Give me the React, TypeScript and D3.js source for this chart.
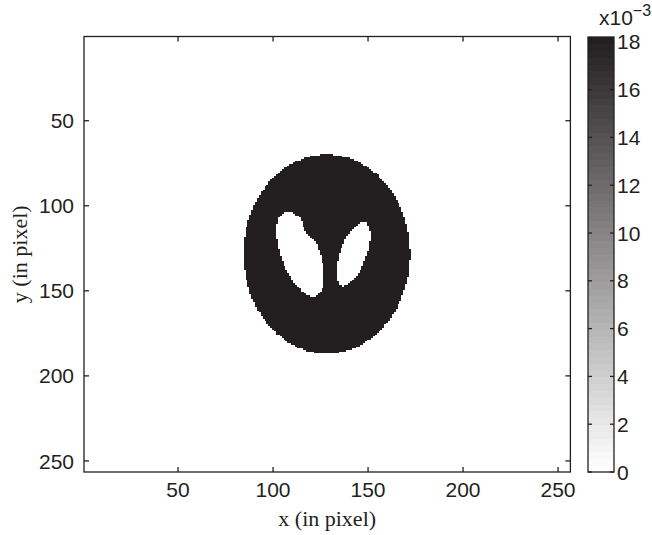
import React from "react";
import * as d3 from "d3";

// Phantom definition: ellipses painted in order, later ones overwrite earlier ones.
const ellipseCx = [0, 0.22, -0.22, 0];
const ellipseCy = [0, 0, 0, 0.35];
const ellipseA = [0.69, 0.11, 0.16, 0.21];
const ellipseB = [0.92, 0.31, 0.41, 0.25];
const ellipsePhi = [0, -18, 18, 0];
const ellipseLevel = [0.0182, 0, 0, 0.0182];

const imageSize = 256;
const phantomCenter = 128.25;
const phantomScale = 63.5;

const axisTicks = [50, 100, 150, 200, 250];
const colorbarTicks = [0, 2, 4, 6, 8, 10, 12, 14, 16, 18];
const colorMax = 0.0182;
const colorLevels = 64;

const W = 652;
const H = 535;
const plot = { left: 84, right: 570.4, top: 36.5, bottom: 472 };
const cbar = { left: 588, right: 614, top: 37, bottom: 472 };
const ink = "#231f20";
const sans = "'Liberation Sans', Arial, Helvetica, sans-serif";
const serif = "'Liberation Serif', 'Times New Roman', serif";

function phantomValue(col: number, row: number): number {
  const x = (col - phantomCenter) / phantomScale;
  const y = (phantomCenter - row) / phantomScale;
  let v = 0;
  for (let k = 0; k < ellipseCx.length; k++) {
    const t = (ellipsePhi[k] * Math.PI) / 180;
    const dx = x - ellipseCx[k];
    const dy = y - ellipseCy[k];
    const u = dx * Math.cos(t) + dy * Math.sin(t);
    const w = -dx * Math.sin(t) + dy * Math.cos(t);
    if ((u * u) / (ellipseA[k] * ellipseA[k]) + (w * w) / (ellipseB[k] * ellipseB[k]) <= 1) {
      v = ellipseLevel[k];
    }
  }
  return v;
}

export default function App() {
  const xScale = d3.scaleLinear().domain([0.5, imageSize + 0.5]).range([plot.left, plot.right]);
  const yScale = d3.scaleLinear().domain([0.5, imageSize + 0.5]).range([plot.top, plot.bottom]);
  const cScale = d3.scaleLinear().domain([0, colorMax]).range([cbar.bottom, cbar.top]);
  const interp = d3.interpolateRgb("#ffffff", ink);
  const levelColor = (v: number) => {
    const idx = Math.min(colorLevels - 1, Math.floor((v / colorMax) * colorLevels));
    return interp(idx / (colorLevels - 1));
  };

  // Run-length encode each image row into rectangles of constant value.
  const runs: { r: number; c0: number; c1: number; v: number }[] = [];
  for (let r = 1; r <= imageSize; r++) {
    let start = 1;
    let cur = phantomValue(1, r);
    for (let c = 2; c <= imageSize + 1; c++) {
      const v = c <= imageSize ? phantomValue(c, r) : NaN;
      if (v !== cur) {
        if (cur > 0) runs.push({ r, c0: start, c1: c - 1, v: cur });
        start = c;
        cur = v;
      }
    }
  }

  const bandH = (cbar.bottom - cbar.top) / colorLevels;
  const tickLen = 5;

  return (
    <svg width={W} height={H} style={{ position: "absolute", left: 0, top: 0, background: "#fff" }}>
      <rect x={0} y={0} width={W} height={H} fill="#fff" />
      {/* image */}
      <g shapeRendering="crispEdges">
        {runs.map((d, i) => (
          <rect
            key={i}
            x={xScale(d.c0 - 0.5)}
            y={yScale(d.r - 0.5)}
            width={xScale(d.c1 + 0.5) - xScale(d.c0 - 0.5)}
            height={yScale(d.r + 0.5) - yScale(d.r - 0.5) + 0.4}
            fill={levelColor(d.v)}
          />
        ))}
      </g>
      {/* axes box */}
      <rect
        x={plot.left}
        y={plot.top}
        width={plot.right - plot.left}
        height={plot.bottom - plot.top}
        fill="none"
        stroke={ink}
        strokeWidth={1.3}
      />
      {axisTicks.map((t) => (
        <g key={"x" + t}>
          <line x1={xScale(t)} x2={xScale(t)} y1={plot.bottom} y2={plot.bottom - tickLen} stroke={ink} strokeWidth={1.3} />
          <line x1={xScale(t)} x2={xScale(t)} y1={plot.top} y2={plot.top + tickLen} stroke={ink} strokeWidth={1.3} />
          <text x={xScale(t)} y={497} textAnchor="middle" fontFamily={sans} fontSize={21} fill={ink}>
            {t}
          </text>
        </g>
      ))}
      {axisTicks.map((t) => (
        <g key={"y" + t}>
          <line x1={plot.left} x2={plot.left + tickLen} y1={yScale(t)} y2={yScale(t)} stroke={ink} strokeWidth={1.3} />
          <line x1={plot.right} x2={plot.right - tickLen} y1={yScale(t)} y2={yScale(t)} stroke={ink} strokeWidth={1.3} />
          <text x={74} y={yScale(t)} dy="0.36em" textAnchor="end" fontFamily={sans} fontSize={21} fill={ink}>
            {t}
          </text>
        </g>
      ))}
      <text x={(plot.left + plot.right) / 2} y={526} textAnchor="middle" fontFamily={serif} fontSize={22} fill={ink}>
        x (in pixel)
      </text>
      <text
        transform={`translate(27,${(plot.top + plot.bottom) / 2}) rotate(-90)`}
        textAnchor="middle"
        fontFamily={serif}
        fontSize={22}
        fill={ink}
      >
        y (in pixel)
      </text>
      {/* colorbar */}
      <g shapeRendering="crispEdges">
        {d3.range(colorLevels).map((k) => (
          <rect
            key={k}
            x={cbar.left}
            y={cbar.bottom - (k + 1) * bandH}
            width={cbar.right - cbar.left}
            height={bandH + 0.5}
            fill={interp(k / (colorLevels - 1))}
          />
        ))}
      </g>
      <g>
        <rect
          x={cbar.left}
          y={cbar.top}
          width={cbar.right - cbar.left}
          height={cbar.bottom - cbar.top}
          fill="none"
          stroke={ink}
          strokeWidth={1.3}
        />
        {colorbarTicks.map((t) => (
          <g key={"c" + t}>
            <line x1={cbar.left} x2={cbar.left + 4} y1={cScale(t / 1000)} y2={cScale(t / 1000)} stroke={ink} strokeWidth={1.3} />
            <line x1={cbar.right} x2={cbar.right - 4} y1={cScale(t / 1000)} y2={cScale(t / 1000)} stroke={ink} strokeWidth={1.3} />
            <text x={617} y={cScale(t / 1000)} dy="0.36em" fontFamily={sans} fontSize={21} fill={ink}>
              {t}
            </text>
          </g>
        ))}
        <text x={599} y={25} fontFamily={sans} fontSize={21} fill={ink}>
          x10
          <tspan dy={-9} fontSize={16}>
            −3
          </tspan>
        </text>
      </g>
    </svg>
  );
}
